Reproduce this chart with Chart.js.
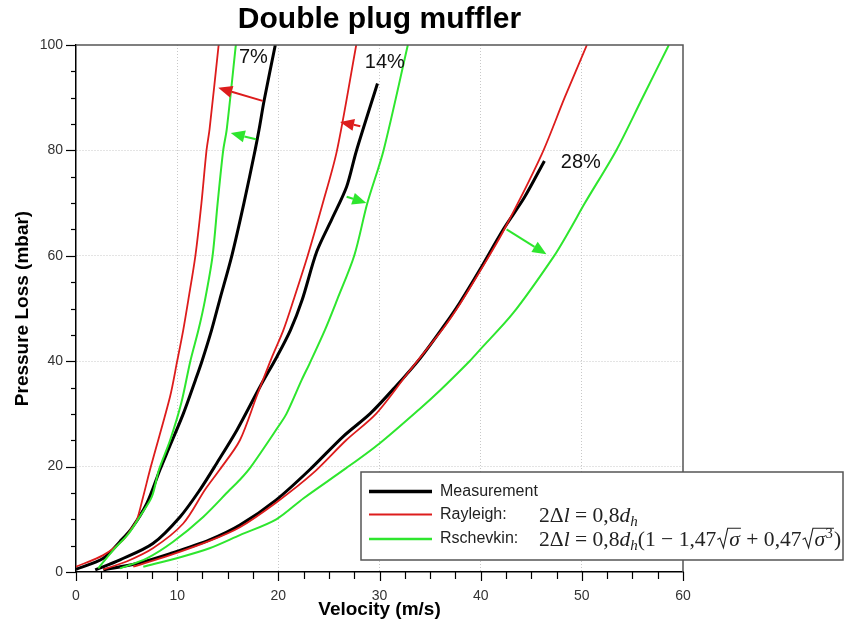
<!DOCTYPE html>
<html>
<head>
<meta charset="utf-8">
<script src="https://cdn.jsdelivr.net/npm/chart.js@4.4.0/dist/chart.umd.min.js"></script>
<style>
  html, body { margin: 0; padding: 0; background: #fff; }
</style>
</head>
<body>
<canvas id="grafico" width="845" height="635"></canvas>
<script>
const meas7 = [[0,0.5],[2.7,2.6],[4.35,5.8],[5.5,8.3],[7.0,13],[8.3,19.4],[9.1,23.1],[10.6,30],[11.8,36.4],[12.45,40],[13.4,45.9],[14.2,51.6],[15.4,60],[16.6,70],[17.7,80],[18.1,84],[18.6,89.5],[19.7,100]];
const meas14 = [[1.9,0.4],[4.35,2.3],[7.6,5.4],[10.3,10.5],[12.25,15.6],[13.9,20.6],[15.9,26.9],[18.2,35.2],[19.9,41],[21.2,45.9],[22.35,51.6],[23.8,60.8],[25.3,67],[26.75,73.1],[27.7,79.8],[29.8,92.7]];
const meas28 = [[2.7,0.4],[6.0,1.6],[9.3,3.5],[13.2,6.1],[16.2,8.9],[19.8,13.7],[23.1,19.4],[26.4,25.7],[29.1,30.1],[31.6,35.2],[34.0,40.5],[36.3,46.5],[37.9,51],[39.9,57.3],[42.2,64.9],[44.3,71],[46.3,78]];

// Rayleigh model
const ray7 = [[0,1],[2.7,3.2],[4.67,6.1],[5.5,8.3],[6.0,9.8],[6.6,14],[7.4,20],[9.3,33.3],[10.0,40],[10.6,45.9],[11.1,51.6],[11.8,60],[12.4,70],[12.9,80],[13.2,84],[14.1,100]];
const ray14 = [[2.7,0.5],[5.0,2.0],[7.6,4.5],[10.6,9.2],[12.75,15.6],[14.2,19.4],[16.2,25],[17.85,33.3],[19.4,40.9],[20.5,45.9],[21.5,51.6],[22.9,60],[24.4,70],[25.8,80],[27.7,100]];
const ray28 = [[5.66,1.0],[9.3,3.2],[13.2,5.9],[16.2,8.5],[19.8,13.2],[23.4,18.7],[26.7,25],[29.7,30.1],[32.9,38],[36.4,46.5],[38.0,51],[40.0,57.3],[42.3,64.9],[46.0,79.1],[48.3,90],[50.5,100]];

// Rschevkin model
const rsc7 = [[2.2,0.7],[3.7,4.2],[5.2,7.3],[6.3,10.5],[7.5,14.3],[8.2,19.4],[9.3,25],[10.4,32],[11.3,40],[12.1,45.9],[12.75,51.6],[13.5,60],[14.0,70],[14.55,80],[14.9,84],[15.8,100]];
const rsc14 = [[4.35,0.7],[7.0,2.6],[9.6,5.75],[12.6,10.5],[15.2,15.6],[16.2,17.5],[17.3,20],[20.0,27.6],[20.8,30],[22.3,36.4],[23.1,39.6],[24.6,45.9],[25.8,51.6],[27.5,60],[28.8,70],[30.4,80],[32.8,100]];
const rsc28 = [[6.65,1.0],[10.3,2.8],[13.2,4.5],[16.2,7.0],[19.8,10],[22.5,14],[26.7,19.7],[30.0,24.4],[34.0,31.0],[36.0,34.5],[38.9,40],[39.9,42.1],[43.2,49.1],[47.2,59.8],[48.8,64.9],[50.3,70],[53.4,80],[56.0,90],[58.6,100]];

// Annotations: arrows [x0, y0, x1, y1] (tip at x1,y1) and curve labels
const flechasRojas = [[18.45,89.4,14.06,91.9],[28.1,84.6,26.1,85.4]];
const flechasVerdes = [[17.8,82.1,15.3,83.3],[26.75,71.2,28.7,70.0],[42.56,65.0,46.5,60.3]];
const etiquetas = ['7%', '14%', '28%'];
const posEtiquetas = [[17.54,97.7],[30.53,96.7],[49.9,77.7]];

const leyenda = ['Measurement', 'Rayleigh:', 'Rschevkin:'];

const NEGRO = '#000000';
const ROJO = '#dd1c1c';
const VERDE = '#2ee62e';
const SANS = "'Liberation Sans', Arial, sans-serif";
const SERIF = "'Liberation Serif', 'Times New Roman', serif";

function serie(datos, color, ancho) {
    return {
        data: datos.map(p => ({ x: p[0], y: p[1] })),
        borderColor: color,
        borderWidth: ancho,
        pointRadius: 0,
        showLine: true,
        fill: false,
        tension: 0.3
    };
}

function linea(ctx, x0, y0, x1, y1) {
    ctx.beginPath();
    ctx.moveTo(x0, y0);
    ctx.lineTo(x1, y1);
    ctx.stroke();
}

function flecha(ctx, x0, y0, x1, y1, color) {
    const ang = Math.atan2(y1 - y0, x1 - x0);
    const hl = 14, hw = 6;
    const bx = x1 - hl * Math.cos(ang), by = y1 - hl * Math.sin(ang);
    ctx.strokeStyle = color;
    ctx.lineWidth = 2;
    linea(ctx, x0, y0, bx, by);
    ctx.fillStyle = color;
    ctx.beginPath();
    ctx.moveTo(x1, y1);
    ctx.lineTo(bx + hw * Math.sin(ang), by - hw * Math.cos(ang));
    ctx.lineTo(bx - hw * Math.sin(ang), by + hw * Math.cos(ang));
    ctx.closePath();
    ctx.fill();
}

// trozo de fórmula: devuelve la nueva x
function trozo(ctx, txt, x, yb, s, italica, dy, dibujar) {
    ctx.font = (italica ? 'italic ' : '') + s + 'px ' + SERIF;
    if (dibujar) ctx.fillText(txt, x, yb + (dy || 0));
    return x + ctx.measureText(txt).width;
}

function raiz(ctx, x, yb, s, exp, dibujar) {
    const x0 = x;
    const xr = x0 + 0.55 * s;
    let xe = trozo(ctx, 'σ', xr, yb, s, true, 0, dibujar);
    if (exp) xe = trozo(ctx, exp, xe + 0.5, yb, s * 0.68, false, -s * 0.38, dibujar);
    if (dibujar) {
        ctx.lineWidth = 1.1;
        ctx.beginPath();
        ctx.moveTo(x0, yb - 0.3 * s);
        ctx.lineTo(x0 + 0.12 * s, yb - 0.37 * s);
        ctx.lineTo(x0 + 0.28 * s, yb + 0.08 * s);
        ctx.lineTo(x0 + 0.48 * s, yb - 0.82 * s);
        ctx.lineTo(xe + 0.05 * s, yb - 0.82 * s);
        ctx.stroke();
    }
    return xe + 0.05 * s;
}

function formulaBase(ctx, x, yb, s, d) {
    x = trozo(ctx, '2Δ', x, yb, s, false, 0, d);
    x = trozo(ctx, 'l', x, yb, s, true, 0, d);
    x = trozo(ctx, ' = 0,8', x, yb, s, false, 0, d);
    x = trozo(ctx, 'd', x, yb, s, true, 0, d);
    x = trozo(ctx, 'h', x, yb, s * 0.7, true, s * 0.2, d);
    return x;
}

function formulaRsc(ctx, x, yb, s, d) {
    x = formulaBase(ctx, x, yb, s, d);
    x = trozo(ctx, '(1 − 1,47', x, yb, s, false, 0, d);
    x = raiz(ctx, x + 1, yb, s, null, d);
    x = trozo(ctx, ' + 0,47', x, yb, s, false, 0, d);
    x = raiz(ctx, x + 1, yb, s, '3', d);
    x = trozo(ctx, ')', x, yb, s, false, 0, d);
    return x;
}

const decorado = {
    id: 'decorado',
    afterDatasetsDraw(chart) {
        const { ctx, chartArea: a, scales: { x, y } } = chart;
        ctx.save();

        // marco superior y derecho
        ctx.strokeStyle = '#555';
        ctx.lineWidth = 1.5;
        ctx.beginPath();
        ctx.moveTo(a.left, a.top);
        ctx.lineTo(a.right, a.top);
        ctx.lineTo(a.right, a.bottom);
        ctx.stroke();

        // marcas de los ejes (mayores y menores)
        ctx.strokeStyle = '#000';
        ctx.lineWidth = 1.2;
        x.ticks.forEach(t => {
            const px = Math.round(x.getPixelForValue(t.value)) + 0.5;
            linea(ctx, px, a.bottom, px, a.bottom + (t.value % 10 === 0 ? 9 : 7));
        });
        y.ticks.forEach(t => {
            const py = Math.round(y.getPixelForValue(t.value)) + 0.5;
            linea(ctx, a.left, py, a.left - (t.value % 20 === 0 ? 10 : 5), py);
        });

        // flechas
        flechasRojas.forEach(f => flecha(ctx, x.getPixelForValue(f[0]), y.getPixelForValue(f[1]),
            x.getPixelForValue(f[2]), y.getPixelForValue(f[3]), ROJO));
        flechasVerdes.forEach(f => flecha(ctx, x.getPixelForValue(f[0]), y.getPixelForValue(f[1]),
            x.getPixelForValue(f[2]), y.getPixelForValue(f[3]), VERDE));

        // etiquetas de porcentaje
        ctx.fillStyle = '#111';
        ctx.font = '20px ' + SANS;
        ctx.textAlign = 'center';
        ctx.textBaseline = 'middle';
        etiquetas.forEach((txt, i) => {
            ctx.fillText(txt, x.getPixelForValue(posEtiquetas[i][0]), y.getPixelForValue(posEtiquetas[i][1]));
        });

        // leyenda
        const lx = 361, ly = 472, lw = 482, lh = 88;
        ctx.fillStyle = '#fff';
        ctx.fillRect(lx, ly, lw, lh);
        ctx.strokeStyle = '#555';
        ctx.lineWidth = 1.5;
        ctx.strokeRect(lx, ly, lw, lh);

        const filas = [491.5, 514.5, 539];
        const colores = [NEGRO, ROJO, VERDE];
        const anchos = [3.5, 2, 2.5];
        filas.forEach((fy, i) => {
            ctx.strokeStyle = colores[i];
            ctx.lineWidth = anchos[i];
            linea(ctx, 369, fy, 432, fy);
            ctx.fillStyle = '#222';
            ctx.font = '16px ' + SANS;
            ctx.textAlign = 'left';
            ctx.textBaseline = 'middle';
            ctx.fillText(leyenda[i], 440, fy);
        });

        // fórmulas
        ctx.fillStyle = '#222';
        ctx.strokeStyle = '#222';
        ctx.textAlign = 'left';
        ctx.textBaseline = 'alphabetic';
        const ancho17 = formulaRsc(ctx, 0, 0, 17, false);
        const s = 17 * 303 / ancho17;
        formulaBase(ctx, 539, 521.5, s, true);
        formulaRsc(ctx, 539, 546, s, true);

        // título
        ctx.fillStyle = '#000';
        ctx.font = 'bold 30px ' + SANS;
        ctx.textAlign = 'center';
        ctx.textBaseline = 'middle';
        ctx.fillText('Double plug muffler', (a.left + a.right) / 2, 20);

        ctx.restore();
    }
};

document.addEventListener('DOMContentLoaded', function() {
    const ctx = document.getElementById('grafico').getContext('2d');
    new Chart(ctx, {
        type: 'scatter',
        data: {
            datasets: [
                serie(rsc7, VERDE, 2), serie(rsc14, VERDE, 2), serie(rsc28, VERDE, 2),
                serie(ray7, ROJO, 1.8), serie(ray14, ROJO, 1.8), serie(ray28, ROJO, 1.8),
                serie(meas7, NEGRO, 3), serie(meas14, NEGRO, 3), serie(meas28, NEGRO, 3)
            ]
        },
        options: {
            responsive: false,
            animation: false,
            devicePixelRatio: 1,
            layout: { padding: { top: 45, right: 162, bottom: 0, left: 0 } },
            plugins: {
                legend: { display: false },
                tooltip: { enabled: false },
                title: { display: false }
            },
            scales: {
                x: {
                    type: 'linear',
                    min: 0,
                    max: 60,
                    afterFit: s => { s.height = 63; },
                    ticks: {
                        stepSize: 2.5,
                        maxTicksLimit: 100,
                        autoSkip: false,
                        maxRotation: 0,
                        padding: 16,
                        color: '#333',
                        font: { family: SANS, size: 14 },
                        callback: v => (v % 10 === 0 ? v : '')
                    },
                    grid: {
                        drawTicks: false,
                        lineWidth: 1,
                        color: c => (c.tick && c.tick.value % 10 === 0 && c.tick.value > 0 && c.tick.value < 60) ? '#c8c8c8' : 'rgba(0,0,0,0)'
                    },
                    border: { display: true, color: '#000', width: 1.5, dash: [1, 2] },
                    title: {
                        display: true,
                        text: 'Velocity (m/s)',
                        color: '#000',
                        font: { family: SANS, size: 19, weight: 'bold' },
                        padding: { top: 0, bottom: 14 }
                    }
                },
                y: {
                    type: 'linear',
                    min: 0,
                    max: 100,
                    afterFit: s => { s.width = 76; },
                    ticks: {
                        stepSize: 5,
                        maxTicksLimit: 100,
                        autoSkip: false,
                        padding: 13,
                        color: '#333',
                        font: { family: SANS, size: 14 },
                        callback: v => (v % 20 === 0 ? v : '')
                    },
                    grid: {
                        drawTicks: false,
                        lineWidth: 1,
                        color: c => (c.tick && c.tick.value % 20 === 0 && c.tick.value > 0 && c.tick.value < 100) ? '#c8c8c8' : 'rgba(0,0,0,0)'
                    },
                    border: { display: true, color: '#000', width: 1.5, dash: [1, 2] },
                    title: {
                        display: true,
                        text: 'Pressure Loss (mbar)',
                        color: '#000',
                        font: { family: SANS, size: 19, weight: 'bold' },
                        padding: { top: 11, bottom: 0 }
                    }
                }
            }
        },
        plugins: [decorado]
    });
});
</script>
</body>
</html>
